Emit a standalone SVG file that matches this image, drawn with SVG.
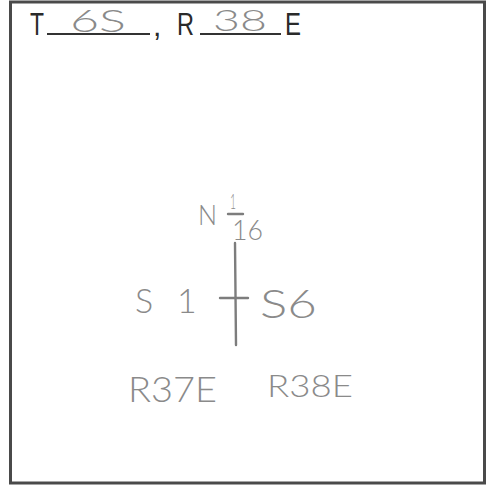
<svg xmlns="http://www.w3.org/2000/svg" width="489" height="486" viewBox="0 0 489 486">
  <style>
    .ink { font-family: "Liberation Sans", Arial, sans-serif; fill: #2a2a2a; }
    .hand { font-family: Lato, "Liberation Sans", Arial, sans-serif; fill: #8a8a8a; font-weight: 300; }
    .rule { stroke: #333; stroke-width: 2.2; fill: none; }
    .pen { stroke: #7d7d7d; stroke-width: 2.4; fill: none; stroke-linecap: round; }
  </style>
  <rect x="0" y="0" width="489" height="486" fill="#ffffff"/>
  <rect id="frame" x="10.5" y="2" width="474" height="481" fill="none" stroke="#4a4a4a" stroke-width="3"/>

  <g id="header">
    <text class="ink" x="30" y="35" font-size="31" textLength="14" lengthAdjust="spacingAndGlyphs">T</text>
    <line class="rule" x1="47" y1="34" x2="150" y2="34"/>
    <text class="hand" x="70" y="32" font-size="31" textLength="56" lengthAdjust="spacingAndGlyphs">6S</text>
    <text class="ink" x="153" y="36" font-size="30">,</text>
    <text class="ink" x="177" y="35" font-size="31" textLength="17" lengthAdjust="spacingAndGlyphs">R</text>
    <line class="rule" x1="200" y1="34" x2="281" y2="34"/>
    <text class="hand" x="213" y="31" font-size="30" textLength="54" lengthAdjust="spacingAndGlyphs">38</text>
    <text class="ink" x="285" y="35" font-size="31" textLength="16" lengthAdjust="spacingAndGlyphs">E</text>
  </g>

  <g id="north-label">
    <text class="hand" x="198" y="225" font-size="28" textLength="19" lengthAdjust="spacingAndGlyphs">N</text>
    <text class="hand" x="230" y="209" font-size="22" textLength="6" lengthAdjust="spacingAndGlyphs">1</text>
    <line class="pen" x1="228" y1="214" x2="243" y2="214" stroke-width="2"/>
    <text class="hand" x="232" y="240" font-size="27" textLength="31" lengthAdjust="spacingAndGlyphs">16</text>
  </g>

  <g id="connectors">
    <line class="pen" x1="235" y1="243" x2="236" y2="345"/>
    <line class="pen" x1="220" y1="298" x2="248" y2="298"/>
  </g>

  <g id="west-label">
    <text class="hand" x="135 177" y="313" font-size="34">S1</text>
  </g>
  <g id="east-label">
    <text class="hand" x="260" y="318" font-size="40" textLength="57" lengthAdjust="spacingAndGlyphs">S6</text>
  </g>

  <g id="range-west">
    <text class="hand" x="128" y="402" font-size="35" textLength="89" lengthAdjust="spacingAndGlyphs">R37E</text>
  </g>
  <g id="range-east">
    <text class="hand" x="267" y="397" font-size="32" textLength="86" lengthAdjust="spacingAndGlyphs">R38E</text>
  </g>
</svg>
